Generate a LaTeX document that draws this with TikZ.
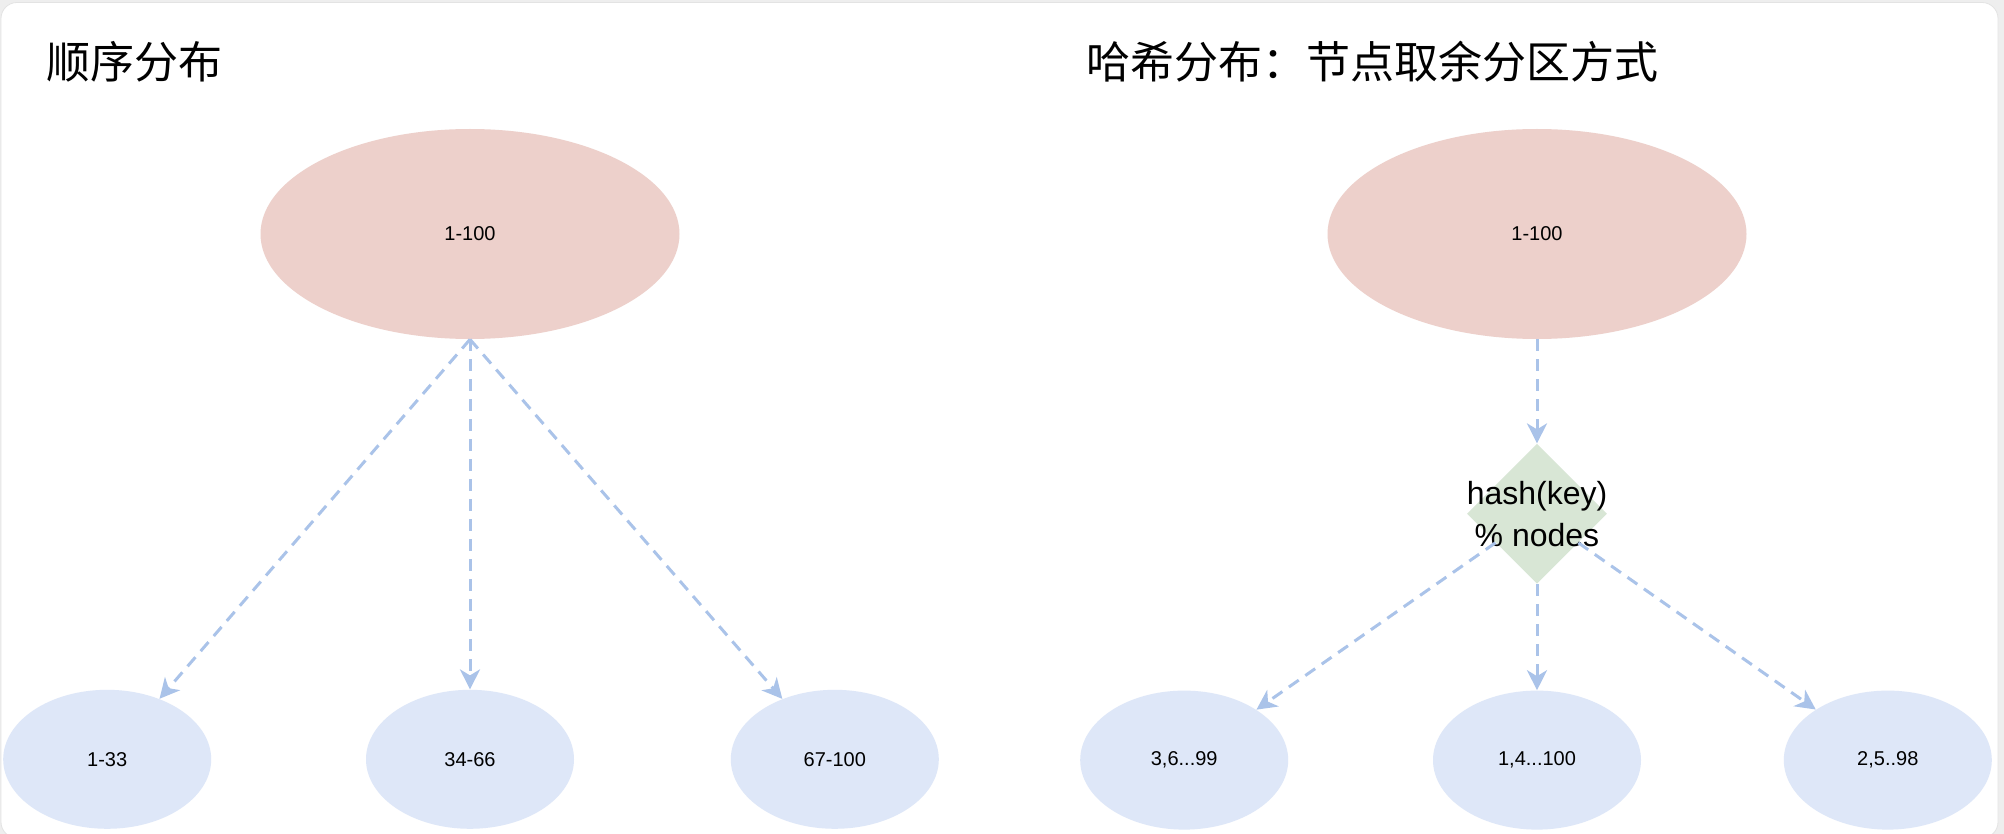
\documentclass[tikz,border=0pt]{standalone}
\usepackage{fontspec}
\setmainfont{Liberation Sans}
\newfontfamily\cjkfont{Noto Sans CJK SC}
\usetikzlibrary{positioning,arrows.meta,shapes.geometric}

\definecolor{rootred}{RGB}{237,208,203}
\definecolor{leafblue}{RGB}{222,231,248}
\definecolor{hashgreen}{RGB}{216,230,213}
\definecolor{arrowblue}{RGB}{170,195,233}
\definecolor{framegray}{RGB}{238,238,238}

\begin{document}
\begin{tikzpicture}[
    x=0.5pt, y=-0.5pt,
    root/.style={ellipse, fill=rootred, minimum width=209.5pt, minimum height=105pt,
                 inner sep=0pt, font=\fontsize{10}{12}\selectfont},
    leaf/.style={ellipse, fill=leafblue, minimum width=104pt, minimum height=69.5pt,
                 inner sep=0pt, font=\fontsize{10}{12}\selectfont},
    hashbox/.style={diamond, fill=hashgreen, minimum width=70pt, minimum height=70pt, inner sep=0pt},
    hashtext/.style={align=center, font=\fontsize{16}{21}\selectfont},
    title/.style={anchor=west, inner sep=0pt, font=\cjkfont\fontsize{22}{26}\selectfont},
    arr/.style={-{Stealth[length=10pt, width=10pt, inset=3pt]}, draw=arrowblue,
                line width=1.5pt, dash pattern=on 6pt off 4pt},
  ]
    % Frame
    \useasboundingbox (0,0) rectangle (2004,834);
    \fill[framegray] (0,0) rectangle (2004,834);
    \draw[fill=white, draw=gray!22, rounded corners=8pt] (1,2.5) rectangle (1998,838);

    % Titles
    \node[title] (seqtitle)  at (46,62)   {顺序分布};
    \node[title] (hashtitle) at (1086,62) {哈希分布：节点取余分区方式};

    % Sequential (left)
    \node[root] (seqroot) at (470,234) {1-100};
    \node[leaf, below=175pt of seqroot] (seqmid)   {34-66};
    \node[leaf, left=77pt of seqmid]    (seqleft)  {1-33};
    \node[leaf, right=78pt of seqmid]   (seqright) {67-100};

    % Hash (right)
    \node[root] (hashroot) at (1537,234) {1-100};
    \node[hashbox, below=52pt of hashroot,
          label={[hashtext]center:{hash(key)\\\% nodes}}] (hash) {};
    \node[leaf, below=53pt of hash]     (hashmid)   {1,4...100};
    \node[leaf, left=72pt of hashmid]   (hashleft)  {3,6...99};
    \node[leaf, right=71pt of hashmid]  (hashright) {2,5..98};

    % Arrows
    \draw[arr] (seqroot.south) -- (seqleft);
    \draw[arr] (seqroot.south) -- (seqmid);
    \draw[arr] (seqroot.south) -- (seqright);
    \draw[arr] (hashroot) -- (hash);
    \draw[arr] (hash) -- (hashleft);
    \draw[arr] (hash) -- (hashmid);
    \draw[arr] (hash) -- (hashright);
  \end{tikzpicture}
\end{document}
